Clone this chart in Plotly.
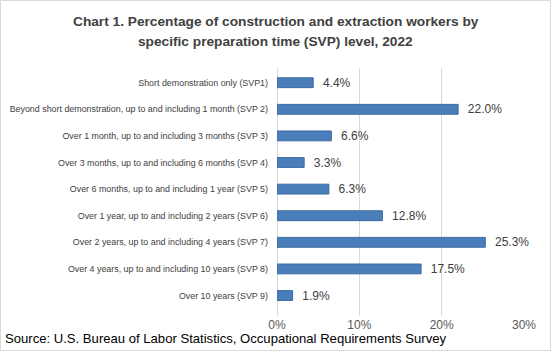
import plotly.graph_objects as go

categories = [
    "Short demonstration only (SVP1)",
    "Beyond short demonstration, up to and including 1 month (SVP 2)",
    "Over 1 month, up to and including 3 months (SVP 3)",
    "Over 3 months, up to and including 6 months (SVP 4)",
    "Over 6 months, up to and including 1 year (SVP 5)",
    "Over 1 year, up to and including 2 years (SVP 6)",
    "Over 2 years, up to and including 4 years (SVP 7)",
    "Over 4 years, up to and including 10 years (SVP 8)",
    "Over 10 years (SVP 9)",
]
values = [4.4, 22.0, 6.6, 3.3, 6.3, 12.8, 25.3, 17.5, 1.9]
tick_vals = [0, 10, 20, 30]
tick_text = ["0%", "10%", "20%", "30%"]
title_lines = [
    "Chart 1. Percentage of construction and extraction workers by",
    "specific preparation time (SVP) level, 2022",
]
source_text = "Source: U.S. Bureau of Labor Statistics, Occupational Requirements Survey"

W, H = 551, 351
ml, mr, mt, mb = 277, 27, 68, 35
pw, ph = W - ml - mr, H - mt - mb

def px_x(x):
    return (x - ml) / pw

def px_y(y):  # y measured from top in pixels
    return (H - y - mb) / ph

fig = go.Figure(go.Bar(
    x=values, y=categories, orientation="h",
    marker=dict(color="#4a7ebb", line=dict(color="#3d6aa0", width=1)),
    text=[f"{v:.1f}%" for v in values],
    texttemplate="  %{text}",
    textposition="outside",
    constraintext="none",
    textfont=dict(family="Liberation Sans", size=12, color="#404040"),
    cliponaxis=False,
    width=0.37,
))

annotations = []
for line, yc in zip(title_lines, [21, 41]):
    annotations.append(dict(
        text=f"<b>{line}</b>", xref="paper", yref="paper",
        x=px_x(W / 2), y=px_y(yc), xanchor="center", yanchor="middle",
        showarrow=False,
        font=dict(family="Liberation Sans", size=13.7, color="#404040"),
    ))
annotations.append(dict(
    text=source_text,
    xref="paper", yref="paper",
    x=px_x(3), y=px_y(338), xanchor="left", yanchor="middle",
    showarrow=False,
    font=dict(family="Liberation Sans", size=13.1, color="#000000"),
))

fig.update_layout(
    width=W, height=H,
    margin=dict(l=ml, r=mr, t=mt, b=mb),
    paper_bgcolor="white", plot_bgcolor="white",
    showlegend=False,
    font=dict(family="Liberation Sans", color="#404040"),
    xaxis=dict(
        range=[0, 30], tickvals=tick_vals, ticktext=tick_text,
        showgrid=True, gridcolor="#d9d9d9", gridwidth=1,
        zeroline=True, zerolinecolor="#d9d9d9", zerolinewidth=1,
        showline=False, ticks="", ticklabelstandoff=0,
        tickfont=dict(family="Liberation Sans", size=12, color="#595959"),
        fixedrange=True, automargin=False,
    ),
    yaxis=dict(
        range=[8.77, -0.553], showgrid=False, showline=False, ticks="",
        ticklabelstandoff=8, automargin=False,
        tickfont=dict(family="Liberation Sans", size=8.9, color="#404040"),
    ),
    annotations=annotations,
    shapes=[dict(
        type="rect", xref="paper", yref="paper",
        x0=px_x(0.5), x1=px_x(W - 0.5),
        y0=px_y(H - 0.5), y1=px_y(0.5),
        line=dict(color="#d9d9d9", width=1),
    )],
)

fig.write_html("out.html")
